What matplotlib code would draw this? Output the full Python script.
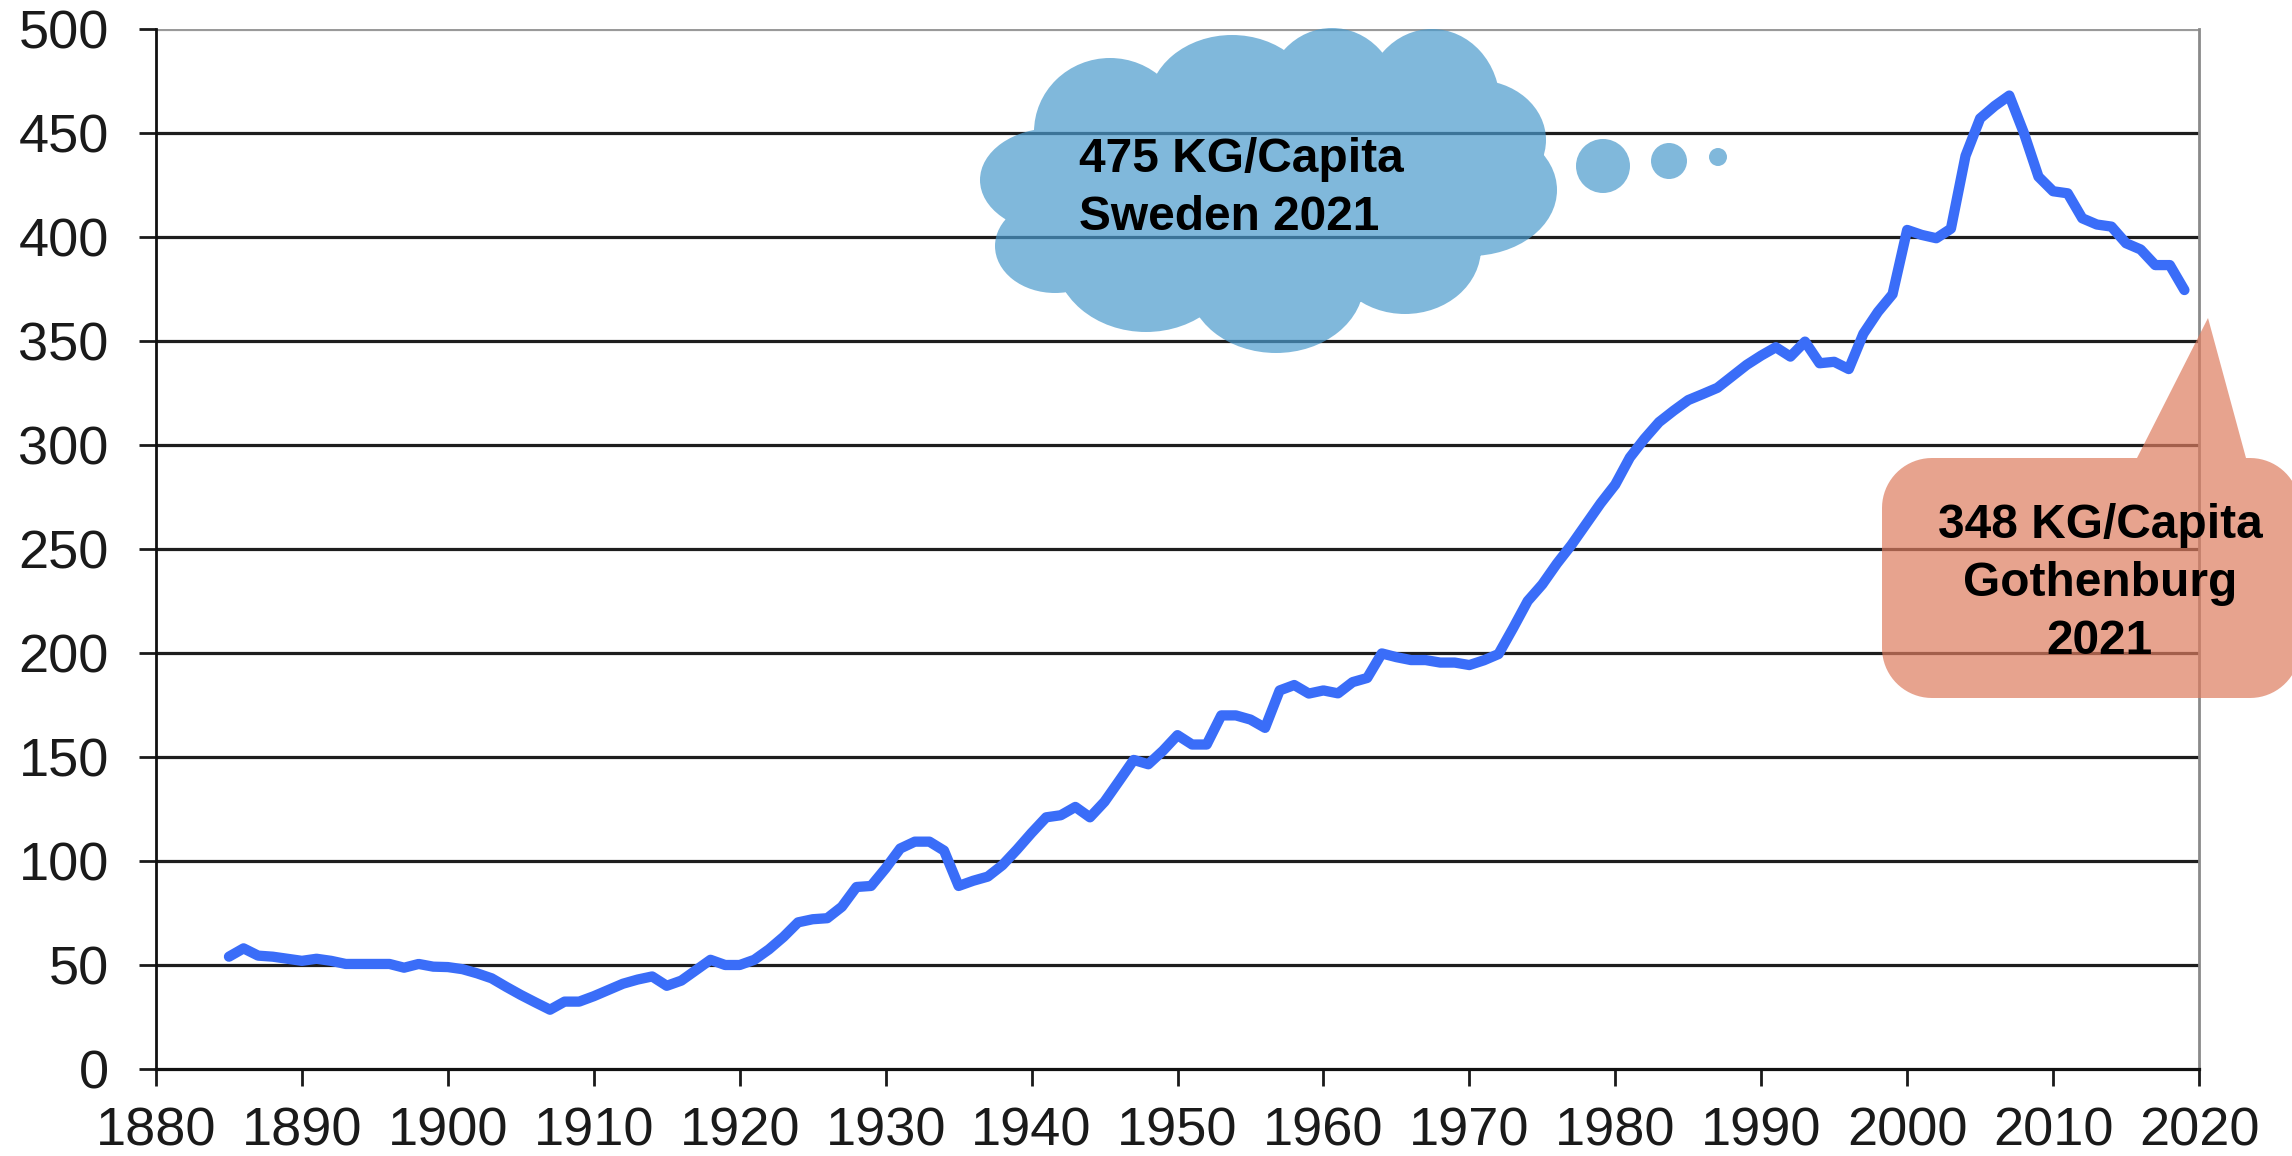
import numpy as np
import matplotlib
matplotlib.use('Agg')
import matplotlib.pyplot as plt
from matplotlib.path import Path
from matplotlib.patches import PathPatch

W, H = 2292, 1156

years = list(range(1885, 2020))
kg_per_capita = [
    54, 58, 54.5, 54, 53, 52, 53, 52, 50.5, 50.5,            # 1885-1894
    50.5, 50.5, 48.7, 50.5, 49.2, 49, 48, 46, 43.6, 39.5,    # 1895-1904
    35.6, 32, 28.5, 32.4, 32.4, 35, 38, 41, 43, 44.5,        # 1905-1914
    40, 42.5, 47.5, 52.5, 50, 50, 52.5, 57.5, 63.5, 70.5,    # 1915-1924
    72, 72.5, 78, 87.5, 88, 96.5, 106, 109.3, 109.3, 105,    # 1925-1934
    88, 90.5, 92.5, 98, 105.5, 113.5, 121, 122, 126, 121,    # 1935-1944
    128.5, 138.5, 148.6, 146.5, 153, 160.5, 156, 156, 170, 170,  # 1945-1954
    168, 164, 182, 184.6, 180.5, 182, 180.6, 186, 188, 199.8,    # 1955-1964
    198, 196.6, 196.6, 195.4, 195.4, 194.2, 196.5, 199.5, 212, 225,  # 1965-1974
    233, 243, 252, 262, 272, 281, 294, 303, 311, 316.5,      # 1975-1984
    321.6, 324.5, 327.5, 333, 338.5, 343, 347, 342.5, 349.7, 339.3,  # 1985-1994
    340, 336.5, 353.5, 364, 372.5, 403.4, 401, 399.4, 404, 439,      # 1995-2004
    457, 463, 468, 450, 429, 422, 421, 409, 406, 405,        # 2005-2014
    397, 394, 386.5, 386.5, 374.5,                           # 2015-2019
]

x_ticks = list(range(1880, 2021, 10))
y_ticks = list(range(0, 501, 50))

cloud_lines = ['475 KG/Capita', 'Sweden 2021']
callout_lines = ['348 KG/Capita', 'Gothenburg', '2021']

plt.rcParams['font.family'] = ['Liberation Sans', 'DejaVu Sans']

fig = plt.figure(figsize=(W / 100, H / 100), dpi=100)
ax = fig.add_axes([156 / W, 1 - 1069 / H, (2199 - 156) / W, (1069 - 29) / H])

ax.set_xlim(1880, 2020)
ax.set_ylim(0, 500)
ax.set_xticks(x_ticks)
ax.set_yticks(y_ticks)
ax.tick_params(axis='both', labelsize=39, colors='#1a1a1a', length=12, width=2.0, direction='out')
ax.tick_params(axis='y', pad=22)
ax.tick_params(axis='x', pad=15)

for v in y_ticks[1:-1]:
    ax.axhline(v, color='#1e1e1e', lw=2.3, zorder=1)
ax.axhline(500, color='#9a9a9a', lw=2.3, zorder=1)

ax.spines['top'].set_visible(False)
ax.spines['right'].set_color('#8a8a8a')
ax.spines['right'].set_linewidth(2.0)
ax.spines['left'].set_color('#111111')
ax.spines['left'].set_linewidth(2.0)
ax.spines['bottom'].set_color('#111111')
ax.spines['bottom'].set_linewidth(2.3)

ax.plot(years, kg_per_capita, color='#3a6df8', lw=7.4,
        solid_joinstyle='round', solid_capstyle='round', zorder=3, clip_on=False)


def to_fig(xs, ys):
    return np.column_stack([np.asarray(xs) / W, 1 - np.asarray(ys) / H])


# thought cloud, built from overlapping ellipses (pixel space, y down)
bumps = [
    (1270, 190, 240, 120),
    (1110, 132, 76, 74), (1232, 105, 84, 70), (1332, 98, 66, 70),
    (1432, 104, 68, 75), (1476, 140, 70, 60), (1470, 190, 87, 66),
    (1405, 248, 76, 66), (1276, 282, 88, 71), (1146, 254, 92, 78),
    (1055, 246, 60, 47), (1054, 180, 74, 52),
    (1603, 166, 27, 27), (1669, 161, 18, 18), (1718, 157, 9, 9),
]
parts = []
for cx, cy, rx, ry in bumps:
    circ = Path.unit_circle()
    v = circ.vertices * [rx, ry] + [cx, cy]
    parts.append(Path(to_fig(v[:, 0], v[:, 1]), circ.codes))
cloud = PathPatch(Path.make_compound_path(*parts), facecolor='#4a9acd',
                  edgecolor='none', alpha=0.7, transform=fig.transFigure)
fig.patches.append(cloud)

for i, line in enumerate(cloud_lines):
    fig.text(1079 / W, 1 - (172 + 58 * i) / H, line, fontsize=34.5, fontweight='bold',
             ha='left', va='baseline', color='black')

# speech callout with pointer
x0, x1, y0, y1, r = 1882, 2300, 458, 698, 50


def arc(cx, cy, a0, a1):
    t = np.radians(np.linspace(a0, a1, 20))
    return list(zip(cx + r * np.cos(t), cy + r * np.sin(t)))


pts = [(x0 + r, y0), (2137, y0), (2208, 318), (2246, y0), (x1 - r, y0)]
pts += arc(x1 - r, y0 + r, 270, 360)
pts += [(x1, y1 - r)]
pts += arc(x1 - r, y1 - r, 0, 90)
pts += [(x0 + r, y1)]
pts += arc(x0 + r, y1 - r, 90, 180)
pts += [(x0, y0 + r)]
pts += arc(x0 + r, y0 + r, 180, 270)
pts = np.array(pts)
callout = PathPatch(Path(to_fig(pts[:, 0], pts[:, 1]), closed=False), facecolor='#dd7c5f',
                    edgecolor='none', alpha=0.7, transform=fig.transFigure)
fig.patches.append(callout)

for i, line in enumerate(callout_lines):
    fig.text(2100 / W, 1 - (538 + 58 * i) / H, line, fontsize=34.5, fontweight='bold',
             ha='center', va='baseline', color='black')

fig.savefig('out.png', dpi=100, facecolor='white')
